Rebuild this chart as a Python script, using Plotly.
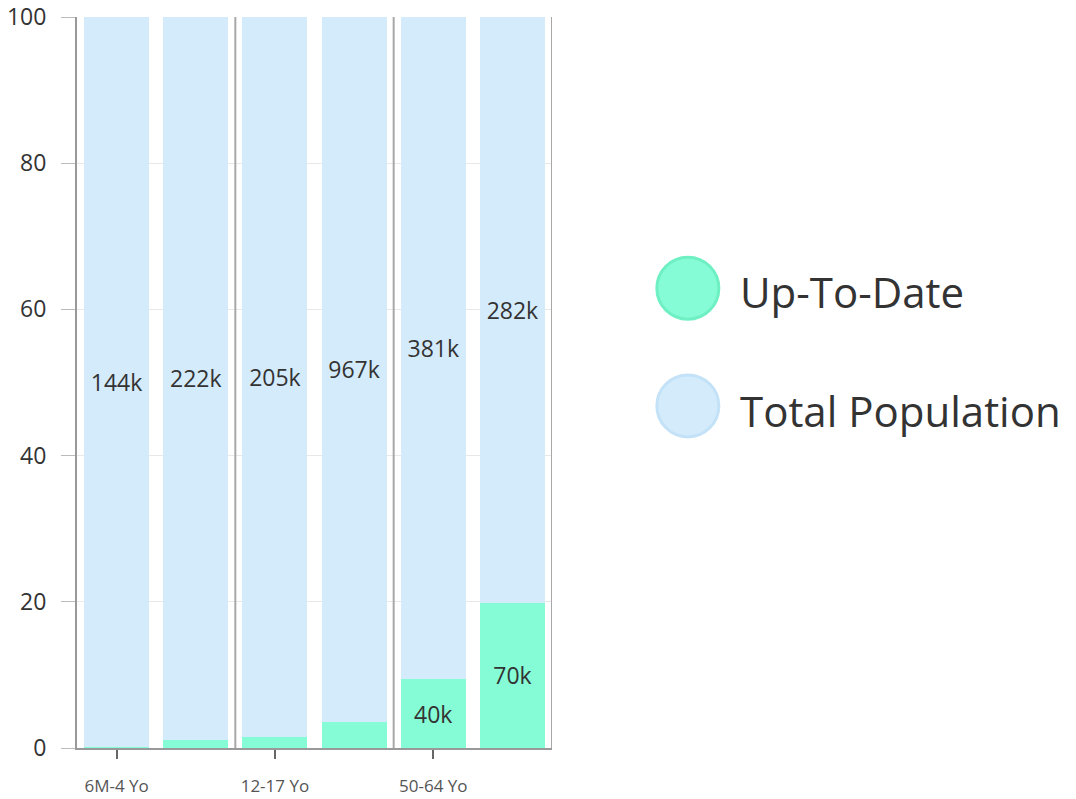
import plotly.graph_objects as go

categories = ["6M-4 Yo", "5-11 Yo", "12-17 Yo", "18-49 Yo", "50-64 Yo", "65+ Yo"]
up_to_date_pct = [0.2, 1.1, 1.5, 3.6, 9.4, 19.9]
up_to_date_labels = ["", "", "", "", "40k", "70k"]
total_pop_labels = ["144k", "222k", "205k", "967k", "381k", "282k"]
tick_positions = [0, 2, 4]
tick_labels = ["6M-4 Yo", "12-17 Yo", "50-64 Yo"]
y_ticks = [0, 20, 40, 60, 80, 100]

GREEN = "#85FCD6"
BLUE = "#D4EBFB"
FONT = "Open Sans"

x = list(range(len(categories)))
remaining_pct = [100 - v for v in up_to_date_pct]

fig = go.Figure()
fig.add_trace(go.Bar(
    x=x, y=up_to_date_pct, name="Up-To-Date", width=0.82,
    marker=dict(color=GREEN, line=dict(width=0)),
    text=up_to_date_labels, textposition="inside", insidetextanchor="middle",
    textangle=0, textfont=dict(size=23, color="#333333", family=FONT),
    showlegend=False, customdata=categories,
))
fig.add_trace(go.Bar(
    x=x, y=remaining_pct, name="Total Population", width=0.82,
    marker=dict(color=BLUE, line=dict(width=0)),
    text=total_pop_labels, textposition="inside", insidetextanchor="middle",
    textangle=0, textfont=dict(size=23, color="#333333", family=FONT),
    showlegend=False, customdata=categories,
))

# category group separators
for xv in [1.5, 3.5, 5.5]:
    fig.add_shape(type="line", xref="x", yref="y", x0=xv, x1=xv, y0=0, y1=100,
                  line=dict(color="#A8A8A8", width=2), layer="above")

# custom legend with large circles
legend_items = [("Up-To-Date", GREEN, "#6EF0C3", 0.629, 0.624),
                ("Total Population", BLUE, "#C3E2F7", 0.468, 0.462)]
for name, fill, border, yc, yt in legend_items:
    fig.add_shape(type="circle", xref="paper", yref="paper",
                  xsizemode="pixel", ysizemode="pixel",
                  xanchor=1.286, yanchor=yc,
                  x0=-31, x1=31, y0=-31, y1=31,
                  fillcolor=fill, line=dict(color=border, width=3))
    fig.add_annotation(xref="paper", yref="paper", x=1.392, y=yt, text=name,
                       showarrow=False, xanchor="left", yanchor="middle",
                       font=dict(size=42, color="#333333", family=FONT))

fig.update_layout(
    barmode="stack",
    width=1076, height=799,
    margin=dict(l=77, r=524, t=17, b=51, autoexpand=False),
    paper_bgcolor="white", plot_bgcolor="white",
    font=dict(family=FONT, color="#333333"),
    bargap=0.18,
    xaxis=dict(
        range=[-0.5, 5.5], tickvals=tick_positions, ticktext=tick_labels,
        ticks="outside", ticklen=9, tickcolor="#666666", tickwidth=2,
        ticklabelstandoff=13, automargin=False,
        tickfont=dict(size=17, color="#555555", family=FONT),
        showgrid=False, showline=True, linecolor="#999999", linewidth=2,
        zeroline=False,
    ),
    yaxis=dict(
        range=[0, 100], tickvals=y_ticks, automargin=False,
        ticks="outside", ticklen=14, tickcolor="#BBBBBB", tickwidth=1,
        ticklabelstandoff=10,
        tickfont=dict(size=23, color="#333333", family=FONT),
        showgrid=True, gridcolor="#E8E8E8", gridwidth=1,
        showline=True, linecolor="#999999", linewidth=2, zeroline=False,
    ),
)

fig.write_html("out.html", config={"displayModeBar": False},
               post_script="document.body.style.margin='0';")
